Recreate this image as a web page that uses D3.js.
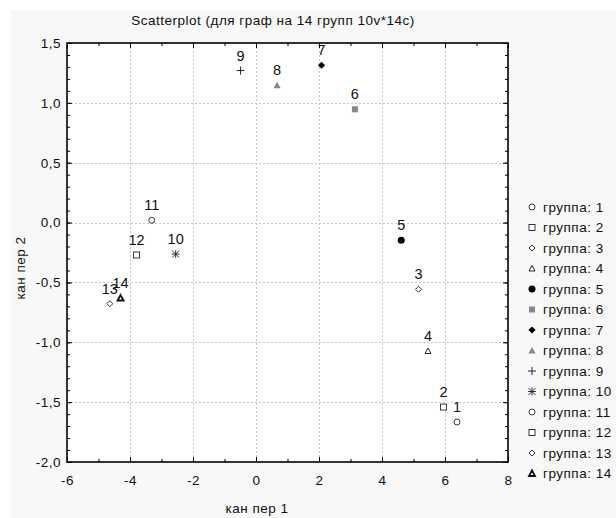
<!DOCTYPE html>
<html>
<head>
<meta charset="utf-8">
<script src="https://cdn.jsdelivr.net/npm/d3@7"></script>
<style>
  html, body { margin: 0; padding: 0; background: #ffffff; }
  svg { display: block; font-family: "Liberation Sans", Arial, sans-serif; }
</style>
</head>
<body>
<svg id="chart" width="616" height="518"></svg>
<script>
// Group identifiers and their canonical variable coordinates
const groups  = [1, 2, 3, 4, 5, 6, 7, 8, 9, 10, 11, 12, 13, 14];
const canVar1 = [6.38, 5.95, 5.16, 5.46, 4.61, 3.14, 2.08, 0.67, -0.49, -2.55, -3.31, -3.79, -4.64, -4.30];
const canVar2 = [-1.666, -1.541, -0.557, -1.073, -0.148, 0.946, 1.314, 1.147, 1.27, -0.263, 0.019, -0.271, -0.678, -0.630];

// Axis ticks
const xTicks = [-6, -4, -2, 0, 2, 4, 6, 8];
const yTicks = [1.5, 1.0, 0.5, 0.0, -0.5, -1.0, -1.5, -2.0];

const titleText = "Scatterplot (для граф на 14 групп 10v*14c)";
const xTitle = "кан пер 1";
const yTitle = "кан пер 2";

// Marker style per group (shape, fill)
const markerStyle = [
  {shape: "circle",   fill: "none"},
  {shape: "square",   fill: "none"},
  {shape: "diamond",  fill: "none"},
  {shape: "triangle", fill: "none"},
  {shape: "circle",   fill: "#000"},
  {shape: "square",   fill: "#888"},
  {shape: "diamond",  fill: "#000"},
  {shape: "triangle", fill: "#888"},
  {shape: "plus",     fill: "none"},
  {shape: "star",     fill: "none"},
  {shape: "circle",   fill: "none"},
  {shape: "square",   fill: "none"},
  {shape: "diamond",  fill: "none"},
  {shape: "triangle", fill: "none", bold: true}
];

const svg = d3.select("#chart");
const W = 616, H = 518;
const plot = {left: 67, right: 508, top: 43, bottom: 462};
const FONT = 13.5, SPACING = 0.5;

// Window background
svg.append("rect").attr("x", 0).attr("y", 0).attr("width", W).attr("height", H).attr("fill", "#fff");
svg.append("rect").attr("x", 11).attr("y", 10).attr("width", W - 11).attr("height", H - 10).attr("fill", "#f8f8f8");
svg.append("rect").attr("x", plot.left).attr("y", plot.top)
  .attr("width", plot.right - plot.left).attr("height", plot.bottom - plot.top).attr("fill", "#fff");

const x = d3.scaleLinear().domain([-6, 8]).range([plot.left, plot.right]);
const y = d3.scaleLinear().domain([-2, 1.5]).range([plot.bottom, plot.top]);

// Dotted grid
const grid = svg.append("g").attr("stroke", "#c8c8c8").attr("stroke-width", 1).attr("stroke-dasharray", "2,2");
grid.selectAll("line.gx").data(xTicks.slice(1, -1)).join("line")
  .attr("x1", d => Math.round(x(d)) + 0.5).attr("x2", d => Math.round(x(d)) + 0.5)
  .attr("y1", plot.top).attr("y2", plot.bottom);
grid.selectAll("line.gy").data(yTicks.slice(1, -1)).join("line")
  .attr("y1", d => Math.round(y(d)) + 0.5).attr("y2", d => Math.round(y(d)) + 0.5)
  .attr("x1", plot.left).attr("x2", plot.right);

// Inward ticks on all four sides (major + minor)
const xMinor = d3.range(-6, 8.01, 1);
const yMinor = d3.range(-20, 15.01, 1).map(v => v / 10);
const fmtX = d => String(d);
const fmtY = d => d.toFixed(1).replace(".", ",");

function inwardAxis(axisGen, transform) {
  const g = svg.append("g").attr("transform", transform).call(axisGen);
  g.select(".domain").remove();
  g.selectAll("line").attr("stroke", "#000");
  return g;
}
function styleLabels(g) {
  g.selectAll("text").attr("font-size", FONT).attr("letter-spacing", SPACING)
    .attr("fill", "#111").attr("font-family", "Liberation Sans, Arial, sans-serif");
}
inwardAxis(d3.axisBottom(x).tickValues(xMinor).tickSize(-3).tickFormat(""), `translate(0,${plot.bottom})`);
inwardAxis(d3.axisTop(x).tickValues(xMinor).tickSize(-3).tickFormat(""), `translate(0,${plot.top})`);
inwardAxis(d3.axisLeft(y).tickValues(yMinor).tickSize(-3).tickFormat(""), `translate(${plot.left},0)`);
inwardAxis(d3.axisRight(y).tickValues(yMinor).tickSize(-3).tickFormat(""), `translate(${plot.right},0)`);

// Major ticks with labels
styleLabels(inwardAxis(d3.axisBottom(x).tickValues(xTicks).tickSize(-5).tickPadding(13).tickFormat(fmtX), `translate(0,${plot.bottom})`));
inwardAxis(d3.axisTop(x).tickValues(xTicks).tickSize(-5).tickFormat(""), `translate(0,${plot.top})`);
styleLabels(inwardAxis(d3.axisLeft(y).tickValues(yTicks).tickSize(-5).tickPadding(6).tickFormat(fmtY), `translate(${plot.left},0)`));
inwardAxis(d3.axisRight(y).tickValues(yTicks).tickSize(-5).tickFormat(""), `translate(${plot.right},0)`);

// Frame
svg.append("rect").attr("x", plot.left).attr("y", plot.top)
  .attr("width", plot.right - plot.left).attr("height", plot.bottom - plot.top)
  .attr("fill", "none").attr("stroke", "#000").attr("stroke-width", 1.6);

// Marker drawing
function drawMarker(g, st) {
  const stroke = "#222";
  const sw = st.bold ? 1.8 : 0.9;
  const open = st.fill === "none";
  switch (st.shape) {
    case "circle":
      g.append("circle").attr("r", open ? 3 : 3.5)
        .attr("fill", open ? "#fff" : st.fill).attr("stroke", open ? stroke : "none").attr("stroke-width", sw);
      break;
    case "square":
      g.append("rect").attr("x", -3).attr("y", -3).attr("width", 6).attr("height", 6)
        .attr("fill", open ? "#fff" : st.fill).attr("stroke", open ? stroke : "none").attr("stroke-width", sw);
      break;
    case "diamond":
      g.append("path").attr("d", open ? "M0,-3L3,0L0,3L-3,0Z" : "M0,-3.6L3.6,0L0,3.6L-3.6,0Z")
        .attr("fill", open ? "#fff" : st.fill).attr("stroke", open ? stroke : "none").attr("stroke-width", sw);
      break;
    case "triangle":
      g.append("path").attr("d", open ? "M0,-3L3,2.5L-3,2.5Z" : "M0,-3.5L3.6,3L-3.6,3Z")
        .attr("fill", open ? "#fff" : st.fill).attr("stroke", open ? "#111" : "none").attr("stroke-width", sw);
      break;
    case "plus":
      g.append("path").attr("d", "M-4,0H4M0,-4V4").attr("stroke", stroke).attr("stroke-width", 1).attr("fill", "none");
      break;
    case "star":
      g.append("path").attr("d", "M0,-4V4M-3.5,-3.5L3.5,3.5M-3.5,3.5L3.5,-3.5M-4,0H4")
        .attr("stroke", stroke).attr("stroke-width", 0.9).attr("fill", "none");
      break;
  }
}

// Points with group labels
const pts = svg.append("g");
groups.forEach((grp, i) => {
  const g = pts.append("g").attr("transform", `translate(${x(canVar1[i])},${y(canVar2[i])})`);
  drawMarker(g, markerStyle[i]);
  pts.append("text")
    .attr("x", x(canVar1[i])).attr("y", y(canVar2[i]) - 10)
    .attr("text-anchor", "middle").attr("font-size", 14.5).attr("fill", "#111")
    .text(grp);
});

// Legend
const lg = svg.append("g");
groups.forEach((grp, i) => {
  const cy = 207 + i * 20.5;
  drawMarker(lg.append("g").attr("transform", `translate(532,${cy})`), markerStyle[i]);
  lg.append("text").attr("x", 543).attr("y", cy + 4.8).attr("font-size", FONT)
    .attr("letter-spacing", SPACING).attr("fill", "#111")
    .text("группа: " + grp);
});

// Titles
svg.append("text").attr("x", 273).attr("y", 25).attr("text-anchor", "middle")
  .attr("font-size", FONT).attr("letter-spacing", SPACING).attr("fill", "#111").text(titleText);
svg.append("text").attr("x", 257).attr("y", 513).attr("text-anchor", "middle")
  .attr("font-size", FONT).attr("letter-spacing", SPACING).attr("fill", "#111").text(xTitle);
svg.append("text").attr("transform", "translate(25,268) rotate(-90)").attr("text-anchor", "middle")
  .attr("font-size", FONT).attr("letter-spacing", SPACING).attr("fill", "#111").text(yTitle);
</script>
</body>
</html>
